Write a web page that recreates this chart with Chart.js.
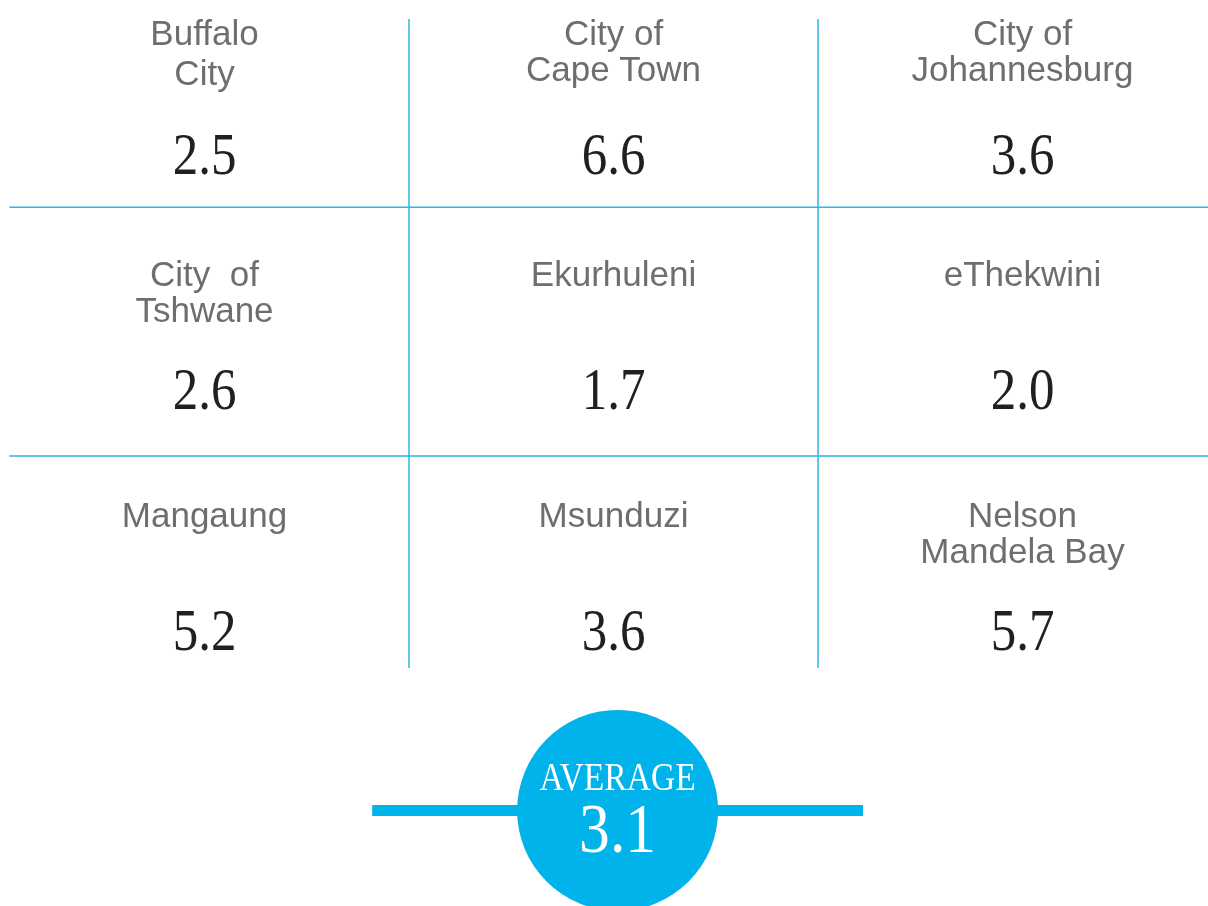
<!DOCTYPE html>
<html>
<head>
<meta charset="utf-8">
<script src="https://cdn.jsdelivr.net/npm/chart.js@4/dist/chart.umd.min.js"></script>
<style>
  html, body { margin: 0; padding: 0; background: #ffffff; }
  #wrap { position: relative; width: 1208px; height: 906px; }
</style>
</head>
<body>
<div id="wrap"><canvas id="canva"></canvas></div>
<script>
// Datos del gráfico
const municipios = [
  ["Buffalo", "City"],
  ["City of", "Cape Town"],
  ["City of", "Johannesburg"],
  ["City  of", "Tshwane"],
  ["Ekurhuleni"],
  ["eThekwini"],
  ["Mangaung"],
  ["Msunduzi"],
  ["Nelson", "Mandela Bay"]
];
const valores = [2.5, 6.6, 3.6, 2.6, 1.7, 2.0, 5.2, 3.6, 5.7];
const promedioTitulo = "AVERAGE";
const promedio = 3.1;

const AZUL = "#00b3ea";
const AZUL_LINEAS = "#2cb7e6";
const GRIS = "#6d6e71";
const NEGRO = "#231f20";

// Posiciones de cada celda: columna y fila en la rejilla 3x3
const celdas = valores.map((v, i) => ({ x: i % 3, y: Math.floor(i / 3) }));

const filaPromedio = 3.176;
const colPromedio = 1.01;

// Texto condensado (imita una tipografía Didot estrecha)
function textoEstrecho(ctx, txt, x, y, escala) {
  ctx.save();
  ctx.translate(x, y);
  ctx.scale(escala, 1);
  ctx.fillText(txt, 0, 0);
  ctx.restore();
}

// Dibuja las líneas divisorias de la tabla
const rejilla = {
  id: "rejilla",
  beforeDatasetsDraw(chart) {
    const { ctx, scales: { x, y } } = chart;
    ctx.save();
    ctx.strokeStyle = AZUL_LINEAS;
    ctx.lineWidth = 1.5;
    [0.5, 1.5].forEach((c) => {
      const px = x.getPixelForValue(c);
      ctx.beginPath();
      ctx.moveTo(px, y.getPixelForValue(-0.108));
      ctx.lineTo(px, y.getPixelForValue(2.585));
      ctx.stroke();
    });
    [0.673, 1.705].forEach((r) => {
      const py = y.getPixelForValue(r);
      ctx.beginPath();
      ctx.moveTo(x.getPixelForValue(-0.477), py);
      ctx.lineTo(x.right, py);
      ctx.stroke();
    });
    ctx.restore();
  }
};

// Escribe nombres, valores y el promedio
const textos = {
  id: "textos",
  afterDatasetsDraw(chart) {
    const { ctx } = chart;
    const meta = chart.getDatasetMeta(2);
    const y = chart.scales.y;
    const paso = y.getPixelForValue(1) - y.getPixelForValue(0);
    ctx.save();
    ctx.textAlign = "center";
    ctx.textBaseline = "alphabetic";
    meta.data.forEach((pt, i) => {
      ctx.fillStyle = GRIS;
      ctx.font = "35px 'Liberation Sans', Arial, sans-serif";
      const interlinea = i === 0 ? 40 : 36;
      municipios[i].forEach((linea, j) => {
        ctx.fillText(linea, pt.x, pt.y + j * interlinea);
      });
      ctx.fillStyle = NEGRO;
      ctx.font = "60px 'Liberation Serif', 'Times New Roman', serif";
      const extra = i < 3 ? 6 : 0;
      textoEstrecho(ctx, valores[i].toFixed(1), pt.x, pt.y + paso * 0.51 + extra, 0.85);
    });

    const c = chart.getDatasetMeta(0).data[0];
    ctx.fillStyle = "#ffffff";
    ctx.font = "40px 'Liberation Serif', 'Times New Roman', serif";
    textoEstrecho(ctx, promedioTitulo, c.x, c.y - 20, 0.84);
    ctx.font = "70px 'Liberation Serif', 'Times New Roman', serif";
    textoEstrecho(ctx, promedio.toFixed(1), c.x, c.y + 42, 0.88);
    ctx.restore();
  }
};

new Chart(document.getElementById("canva").getContext("2d"), {
  type: "scatter",
  data: {
    datasets: [
      {
        label: "Promedio",
        data: [{ x: colPromedio, y: filaPromedio }],
        pointRadius: 100.5,
        pointHoverRadius: 100.5,
        pointBackgroundColor: AZUL,
        pointBorderWidth: 0,
        borderWidth: 0
      },
      {
        type: "line",
        label: "Barra",
        data: [{ x: colPromedio - 0.6, y: filaPromedio }, { x: colPromedio + 0.6, y: filaPromedio }],
        borderColor: AZUL,
        borderWidth: 11,
        borderCapStyle: "butt",
        pointRadius: 0,
        fill: false
      },
      {
        label: "Municipios",
        data: celdas,
        pointRadius: 0,
        pointHoverRadius: 0
      }
    ]
  },
  options: {
    responsive: true,
    maintainAspectRatio: false,
    animation: false,
    layout: { padding: 0, autoPadding: false },
    scales: {
      x: { type: "linear", min: -0.5, max: 2.4535, display: false },
      y: { type: "linear", min: -0.1867, max: 3.5726, reverse: true, display: false }
    },
    plugins: {
      legend: { display: false },
      tooltip: { enabled: false }
    }
  },
  plugins: [rejilla, textos]
});
</script>
</body>
</html>
